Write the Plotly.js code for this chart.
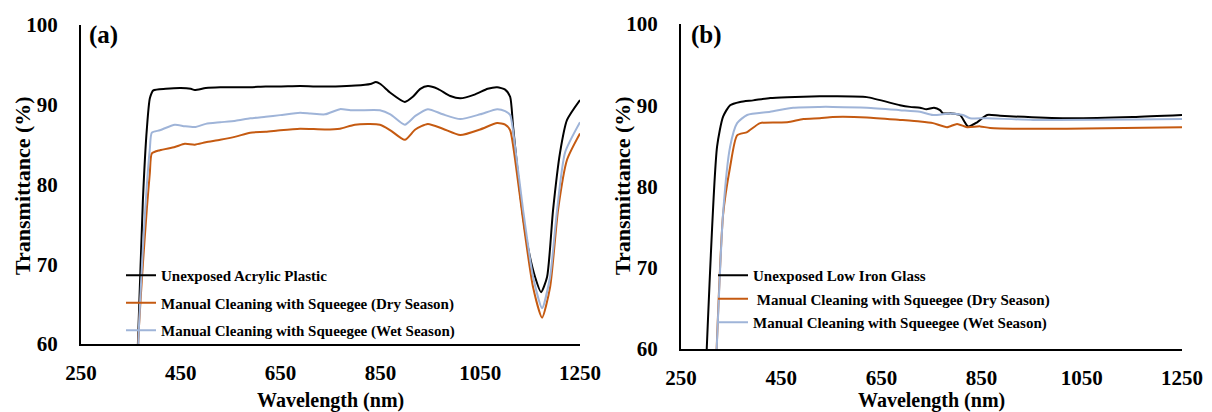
<!DOCTYPE html>
<html>
<head>
<meta charset="utf-8">
<script src="https://cdn.plot.ly/plotly-3.0.1.min.js"></script>
<style>html,body{margin:0;padding:0;background:#fff;}#chart{width:1212px;height:412px;}</style>
</head>
<body>
<div id="chart"></div>
<script>
// Panel (a): Acrylic plastic
const aBlackX = [360,364,374,382,388,395,420,450,470,478,500,529,560,589,620,649,689,720,760,800,830,841,850,870,899,915,930,945,965,990,1010,1040,1065,1084,1100,1110,1116,1130,1144,1160,1172,1184,1196,1210,1224,1250];
const aBlackY = [55,60,78,87,90.8,91.8,92.0,92.1,92.0,91.85,92.1,92.2,92.2,92.2,92.3,92.3,92.35,92.3,92.3,92.4,92.6,92.85,92.6,91.5,90.35,91.0,92.0,92.35,92.0,91.1,90.8,91.3,92.0,92.2,91.9,91.0,87.2,78.9,72.7,68.4,66.5,68.4,76.8,84.0,88.1,90.6];
const aDryX = [362,366,374,382,388,392,408,438,458,478,500,529,560,589,620,649,689,739,769,799,849,870,899,920,945,975,1010,1050,1084,1100,1110,1120,1136,1156,1174,1190,1206,1224,1250];
const aDryY = [55,62,70,77,81.5,83.9,84.3,84.7,85.1,85.0,85.3,85.6,86.0,86.5,86.6,86.8,87.0,86.9,87.0,87.5,87.5,86.8,85.6,86.9,87.6,87.0,86.2,86.9,87.7,87.5,86.8,83.1,75.5,67.1,63.3,67.1,76.8,83.1,86.4];
const aWetX = [362,366,374,382,388,392,408,438,458,478,500,529,560,589,620,649,689,710,739,769,790,809,849,870,899,920,945,975,1010,1050,1084,1100,1110,1120,1136,1156,1174,1190,1204,1220,1250];
const aWetY = [55,62,72,80,84.5,86.5,86.8,87.5,87.3,87.2,87.6,87.8,88.0,88.3,88.5,88.7,89.0,88.9,88.8,89.45,89.3,89.3,89.3,88.8,87.5,88.6,89.45,88.8,88.2,88.8,89.45,89.2,88.7,84.7,76.8,68.4,64.5,68.4,76.8,84.0,87.8];

// Panel (b): Low iron glass
const bBlackX = [298,322,334,348,368,394,428,462,527,553,621,687,707,727,740,755,767,773,790,807,823,841,861,887,1020,1152,1250];
const bBlackY = [55,84.9,88.6,90.0,90.4,90.6,90.9,91.0,91.1,91.1,91.0,90.0,89.8,89.7,89.5,89.7,89.4,89.0,89.0,88.8,87.4,87.9,88.8,88.7,88.4,88.55,88.8];
const bDryX = [318,334,348,362,382,408,462,494,527,553,621,687,727,753,781,801,821,847,867,1020,1250];
const bDryY = [55,76.5,82.4,86.3,86.7,87.8,87.9,88.3,88.4,88.55,88.5,88.2,88.0,87.8,87.3,87.7,87.3,87.4,87.2,87.1,87.3];
const bWetX = [318,334,348,362,382,428,474,527,553,621,687,727,753,787,813,827,861,953,1250];
const bWetY = [55,76.7,84.9,87.8,88.8,89.2,89.7,89.8,89.8,89.7,89.4,89.2,88.8,89.0,88.8,88.4,88.4,88.2,88.3];

const xTicks = [250,450,650,850,1050,1250];
const yTicks = [60,70,80,90,100];
const namesA = ['Unexposed Acrylic Plastic','Manual Cleaning with Squeegee (Dry Season)','Manual Cleaning with Squeegee (Wet Season)'];
const namesB = ['Unexposed Low Iron Glass','\u00a0Manual Cleaning with Squeegee (Dry Season)','Manual Cleaning with Squeegee (Wet Season)'];

const C_BLACK = '#000000', C_DRY = '#c55a11', C_WET = '#9fb4d8';
const SERIF = '"Liberation Serif","Times New Roman",serif';

function tr(x, y, name, color, xa, ya, lg, grp) {
  return {x: x, y: y, name: name, type: 'scatter', mode: 'lines',
    line: {color: color, width: 2, shape: 'spline', smoothing: 0.6},
    xaxis: xa, yaxis: ya, legend: lg, legendgroup: grp};
}
const data = [
  tr(aBlackX, aBlackY, namesA[0], C_BLACK, 'x', 'y', 'legend', 'a1'),
  tr(aDryX, aDryY, namesA[1], C_DRY, 'x', 'y', 'legend', 'a2'),
  tr(aWetX, aWetY, namesA[2], C_WET, 'x', 'y', 'legend', 'a3'),
  tr(bBlackX, bBlackY, namesB[0], C_BLACK, 'x2', 'y2', 'legend2', 'b1'),
  tr(bDryX, bDryY, namesB[1], C_DRY, 'x2', 'y2', 'legend2', 'b2'),
  tr(bWetX, bWetY, namesB[2], C_WET, 'x2', 'y2', 'legend2', 'b3')
];

const tickFont = {family: SERIF, size: 21, color: '#000', weight: 'bold'};
function xax(dom, anchor) {
  return {domain: dom, anchor: anchor, range: [250,1250], tickvals: xTicks, ticks: '',
    ticklabelstandoff: 9, showline: true, linecolor: '#000', linewidth: 2,
    showgrid: false, zeroline: false, tickfont: tickFont, automargin: false, fixedrange: true};
}
function yax(dom, anchor) {
  return {domain: dom, anchor: anchor, range: [60,100], tickvals: yTicks, ticks: '',
    ticklabelstandoff: 17, showline: true, linecolor: '#000', linewidth: 2,
    showgrid: false, zeroline: false, tickfont: tickFont, automargin: false, fixedrange: true};
}
const W = 1212, H = 412;
const legFont = {family: SERIF, size: 15, color: '#000', weight: 'bold'};
function ann(text, px, py, size, angle) {
  return {text: text, xref: 'paper', yref: 'paper', x: px / W, y: (H - py) / H,
    xanchor: 'center', yanchor: 'middle', showarrow: false, textangle: angle || 0,
    font: {family: SERIF, size: size, color: '#000', weight: 'bold'}};
}
const layout = {
  width: W, height: H,
  margin: {l: 0, r: 0, t: 0, b: 0},
  paper_bgcolor: '#fff', plot_bgcolor: '#fff',
  xaxis: xax([81 / W, 580 / W], 'y'),
  yaxis: yax([(H - 344) / H, (H - 25) / H], 'x'),
  xaxis2: xax([681 / W, 1182 / W], 'y2'),
  yaxis2: yax([(H - 349) / H, (H - 24) / H], 'x2'),
  legend: {x: 121 / W, y: (H - 259) / H, xanchor: 'left', yanchor: 'top', bgcolor: 'rgba(0,0,0,0)',
    font: legFont, tracegroupgap: 5, itemwidth: 30},
  legend2: {x: 713 / W, y: (H - 259) / H, xanchor: 'left', yanchor: 'top', bgcolor: 'rgba(0,0,0,0)',
    font: legFont, tracegroupgap: 1, itemwidth: 30},
  annotations: [
    ann('(a)', 103, 35, 25),
    ann('(b)', 706, 35, 25),
    ann('Transmittance (%)', 22, 186, 22, -90),
    ann('Transmittance (%)', 622, 186, 22, -90),
    ann('Wavelength (nm)', 330, 400, 20),
    ann('Wavelength (nm)', 931, 400, 20)
  ],
  showlegend: true
};
Plotly.newPlot('chart', data, layout, {displayModeBar: false, staticPlot: true});
</script>
</body>
</html>
